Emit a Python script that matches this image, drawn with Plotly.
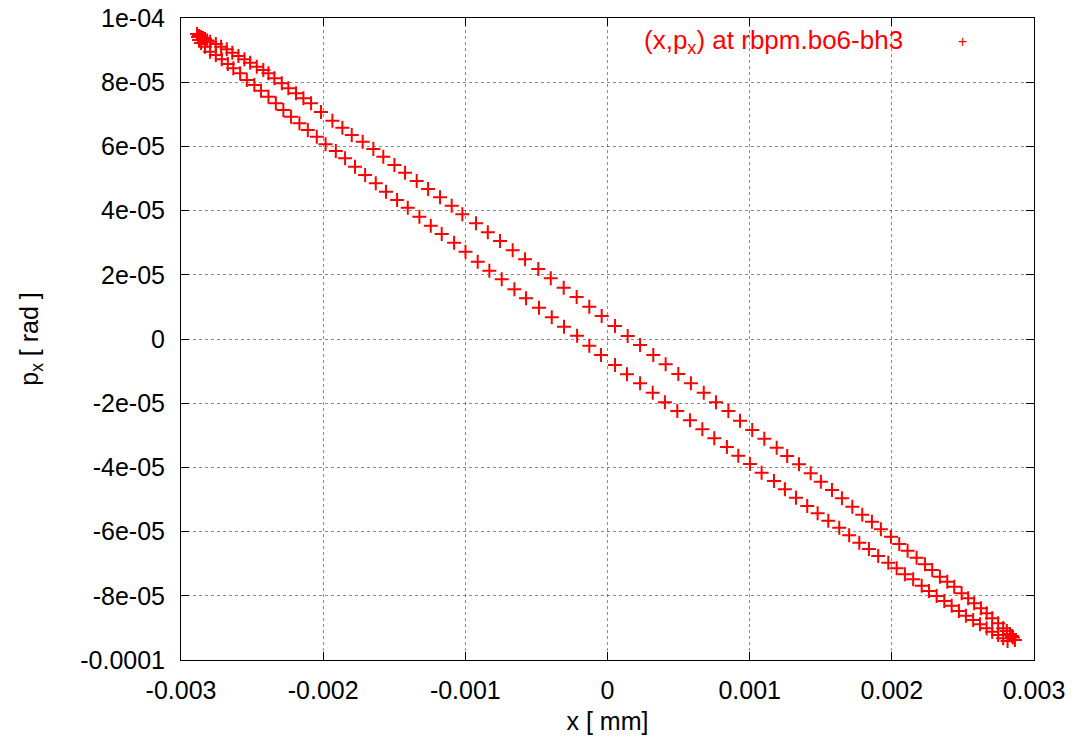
import plotly.graph_objects as go

# (x, p_x) turn-by-turn points, going round the ellipse
x_upper = [-0.002887, -0.002873, -0.002859, -0.002845, -0.002831, -0.002816, -0.002795, -0.002755,
           -0.002718, -0.002678, -0.002639, -0.002596, -0.002554, -0.002514, -0.002467, -0.002421,
           -0.002385, -0.002343, -0.002291, -0.002245, -0.002191, -0.002139, -0.002085, -0.002015,
           -0.001935, -0.001865, -0.001799, -0.001722, -0.001647, -0.001577, -0.001499, -0.001424,
           -0.001342, -0.001262, -0.001178, -0.001096, -0.001021, -0.000925, -0.000842, -0.000756,
           -0.000667, -0.000580, -0.000487, -0.000399, -0.000308, -0.000217, -0.000128, -0.000041,
           0.000053, 0.000142, 0.000229, 0.000322, 0.000409, 0.000498, 0.000587, 0.000677,
           0.000763, 0.000850, 0.000932, 0.001018, 0.001103, 0.001190, 0.001264, 0.001347,
           0.001429, 0.001501, 0.001579, 0.001649, 0.001722, 0.001792, 0.001860, 0.001923,
           0.001994, 0.002052, 0.002111, 0.002174, 0.002233, 0.002284, 0.002338, 0.002390,
           0.002439, 0.002491, 0.002537, 0.002579, 0.002627, 0.002667, 0.002706, 0.002748,
           0.002783, 0.002809, 0.002831, 0.002845, 0.002852]
px_upper = [9.502e-05, 9.439e-05, 9.408e-05, 9.377e-05, 9.346e-05, 9.299e-05, 9.262e-05, 9.190e-05,
            9.106e-05, 9.025e-05, 8.919e-05, 8.816e-05, 8.714e-05, 8.608e-05, 8.483e-05, 8.380e-05,
            8.277e-05, 8.122e-05, 7.966e-05, 7.810e-05, 7.654e-05, 7.499e-05, 7.343e-05, 7.072e-05,
            6.801e-05, 6.583e-05, 6.355e-05, 6.147e-05, 5.919e-05, 5.679e-05, 5.421e-05, 5.181e-05,
            4.922e-05, 4.673e-05, 4.414e-05, 4.153e-05, 3.885e-05, 3.604e-05, 3.324e-05, 3.053e-05,
            2.763e-05, 2.483e-05, 2.181e-05, 1.891e-05, 1.598e-05, 1.308e-05, 1.006e-05, 0.717e-05,
            0.405e-05, 0.093e-05, -0.187e-05, -0.498e-05, -0.788e-05, -1.090e-05, -1.380e-05, -1.673e-05,
            -1.972e-05, -2.243e-05, -2.545e-05, -2.835e-05, -3.106e-05, -3.386e-05, -3.645e-05, -3.903e-05,
            -4.184e-05, -4.446e-05, -4.704e-05, -4.963e-05, -5.224e-05, -5.474e-05, -5.692e-05, -5.928e-05,
            -6.159e-05, -6.386e-05, -6.595e-05, -6.813e-05, -7.019e-05, -7.196e-05, -7.405e-05, -7.561e-05,
            -7.717e-05, -7.922e-05, -8.078e-05, -8.234e-05, -8.390e-05, -8.545e-05, -8.701e-05, -8.857e-05,
            -9.013e-05, -9.097e-05, -9.190e-05, -9.252e-05, -9.299e-05]

x_lower = [0.002866, 0.002814, 0.002783, 0.002748, 0.002706, 0.002667, 0.002620, 0.002572,
           0.002521, 0.002472, 0.002421, 0.002369, 0.002315, 0.002261, 0.002210, 0.002150,
           0.002092, 0.002034, 0.001975, 0.001904, 0.001839, 0.001771, 0.001700, 0.001630,
           0.001553, 0.001478, 0.001405, 0.001326, 0.001248, 0.001171, 0.001084, 0.001002,
           0.000920, 0.000840, 0.000751, 0.000667, 0.000580, 0.000491, 0.000404, 0.000318,
           0.000229, 0.000137, 0.000053, -0.000046, -0.000128, -0.000214, -0.000306, -0.000392,
           -0.000482, -0.000573, -0.000655, -0.000744, -0.000831, -0.000913, -0.000999, -0.001079,
           -0.001166, -0.001243, -0.001323, -0.001405, -0.001480, -0.001558, -0.001630, -0.001705,
           -0.001776, -0.001846, -0.001911, -0.001983, -0.002045, -0.002108, -0.002167, -0.002226,
           -0.002280, -0.002333, -0.002385, -0.002437, -0.002484, -0.002537, -0.002584, -0.002632,
           -0.002671, -0.002713, -0.002755, -0.002795, -0.002831, -0.002859, -0.002873, -0.002880]
px_lower = [-9.377e-05, -9.408e-05, -9.324e-05, -9.221e-05, -9.118e-05, -9.013e-05, -8.888e-05, -8.754e-05,
            -8.620e-05, -8.474e-05, -8.309e-05, -8.162e-05, -8.006e-05, -7.851e-05, -7.685e-05, -7.486e-05,
            -7.330e-05, -7.143e-05, -6.969e-05, -6.760e-05, -6.542e-05, -6.346e-05, -6.115e-05, -5.879e-05,
            -5.660e-05, -5.430e-05, -5.203e-05, -4.944e-05, -4.682e-05, -4.424e-05, -4.165e-05, -3.894e-05,
            -3.636e-05, -3.365e-05, -3.094e-05, -2.813e-05, -2.533e-05, -2.243e-05, -1.972e-05, -1.673e-05,
            -1.380e-05, -1.100e-05, -0.810e-05, -0.498e-05, -0.209e-05, 0.103e-05, 0.383e-05, 0.676e-05,
            0.975e-05, 1.268e-05, 1.548e-05, 1.860e-05, 2.128e-05, 2.408e-05, 2.720e-05, 3.000e-05,
            3.271e-05, 3.530e-05, 3.810e-05, 4.090e-05, 4.330e-05, 4.589e-05, 4.851e-05, 5.109e-05,
            5.368e-05, 5.629e-05, 5.857e-05, 6.069e-05, 6.302e-05, 6.511e-05, 6.720e-05, 6.925e-05,
            7.134e-05, 7.343e-05, 7.548e-05, 7.735e-05, 7.913e-05, 8.069e-05, 8.277e-05, 8.433e-05,
            8.567e-05, 8.714e-05, 8.847e-05, 8.950e-05, 9.106e-05, 9.221e-05, 9.315e-05, 9.408e-05]

x_ticks = [-0.003, -0.002, -0.001, 0, 0.001, 0.002, 0.003]
x_tick_labels = ["-0.003", "-0.002", "-0.001", "0", "0.001", "0.002", "0.003"]
y_ticks = [-1e-4, -8e-5, -6e-5, -4e-5, -2e-5, 0, 2e-5, 4e-5, 6e-5, 8e-5, 1e-4]
y_tick_labels = ["-0.0001", "-8e-05", "-6e-05", "-4e-05", "-2e-05", "0",
                 "2e-05", "4e-05", "6e-05", "8e-05", "1e-04"]

series_name = "(x,p<sub>x</sub>) at rbpm.bo6-bh3"
RED = "#ff0000"
FONT = "Liberation Sans, Arial, sans-serif"
FS = 25

fig = go.Figure()
fig.add_trace(go.Scatter(
    x=x_upper + x_lower, y=px_upper + px_lower,
    mode="markers", name=series_name, showlegend=False,
    marker=dict(symbol="cross-thin", size=10, color=RED,
                line=dict(color=RED, width=2)),
))

axis_common = dict(
    showline=True, linecolor="black", linewidth=1, mirror="ticks",
    ticks="inside", ticklen=8, tickcolor="black", tickwidth=1,
    showgrid=True, gridcolor="rgba(0,0,0,0.45)", griddash="dot", gridwidth=1,
    zeroline=False, automargin=False,
    tickfont=dict(family=FONT, size=FS, color="black"),
)

fig.update_layout(
    width=1075, height=746,
    margin=dict(l=181, r=41, t=18, b=86),
    paper_bgcolor="white", plot_bgcolor="white",
    font=dict(family=FONT, size=FS, color="black"),
    xaxis=dict(range=[-0.003, 0.003], tickvals=x_ticks, ticktext=x_tick_labels,
               title=dict(text="x [ mm]", font=dict(family=FONT, size=FS), standoff=9),
               ticklabelstandoff=8, **axis_common),
    yaxis=dict(range=[-1e-4, 1e-4], tickvals=y_ticks, ticktext=y_tick_labels,
               title=dict(text="p<sub>x</sub> [ rad ]", font=dict(family=FONT, size=FS), standoff=34),
               ticklabelstandoff=10, **axis_common),
    annotations=[
        dict(text=series_name, xref="paper", yref="paper", x=0.849, y=0.963,
             xanchor="right", yanchor="middle", showarrow=False,
             font=dict(family=FONT, size=26, color=RED)),
        dict(text="+", xref="paper", yref="paper", x=0.916, y=0.963,
             xanchor="center", yanchor="middle", showarrow=False,
             font=dict(family=FONT, size=16, color=RED)),
    ],
)

fig.write_html("out.html", config={"displayModeBar": False},
               post_script="document.body.style.margin='0px';")
